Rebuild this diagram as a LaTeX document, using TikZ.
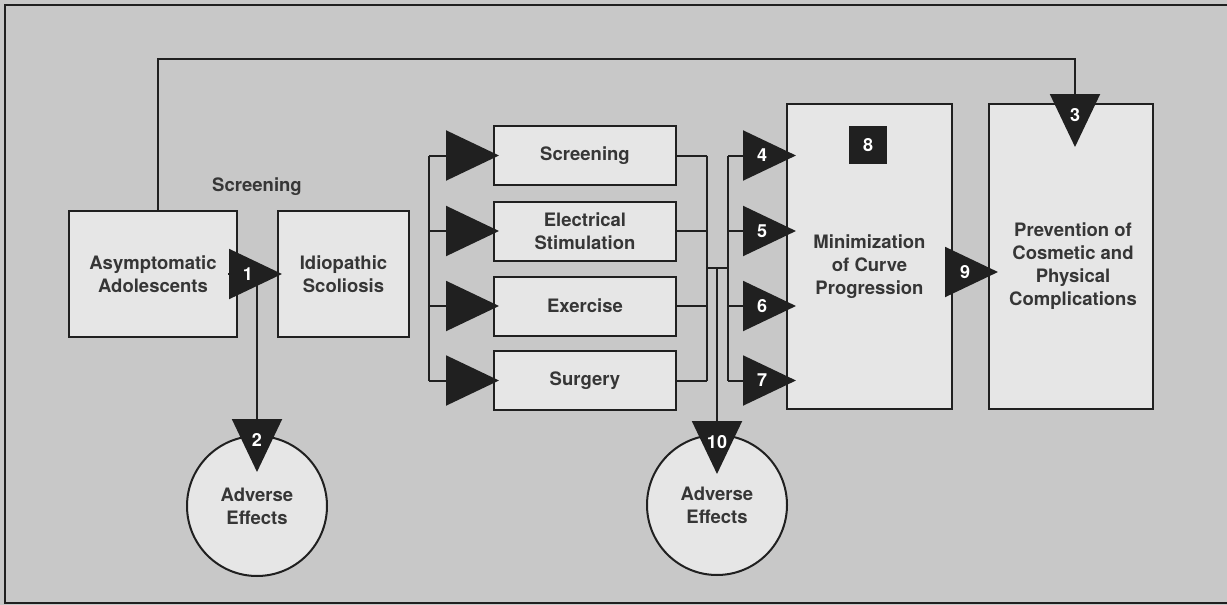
\documentclass[tikz,border=0pt]{standalone}
\usepackage{fontspec}
\setmainfont{TeX Gyre Heros}
\usetikzlibrary{arrows.meta, positioning, calc}
\definecolor{pagegray}{RGB}{200,200,200}
\definecolor{boxgray}{RGB}{230,230,230}
\definecolor{ink}{RGB}{32,32,32}

\tikzset{
  box/.style={draw=ink, fill=boxgray, line width=2pt, align=center, inner sep=0pt,
    font=\fontsize{18.5}{23}\selectfont\bfseries, text=ink!90},
  effect/.style={box, circle, minimum size=140pt},
  caption/.style={align=center, font=\fontsize{18.5}{23}\selectfont\bfseries, text=ink!90},
  wire/.style={draw=ink, line width=2pt},
  bigtip/.style={wire, -{Triangle[length=53pt, width=50pt]}},
  num/.style={text=white, font=\fontsize{18}{18}\selectfont\bfseries, inner sep=0pt}
}

\begin{document}
\begin{tikzpicture}[x=1pt, y=-1pt]
\fill[pagegray] (0,0) rectangle (1227,605);
\useasboundingbox (0,0) rectangle (1227,605);
\draw[wire] (1227,5) -- (5,5) -- (5,603) -- (1227,603);

\node[box, minimum width=168pt, minimum height=126pt] (asym) at (153,274) {Asymptomatic\\Adolescents};
\node[box, minimum width=131pt, minimum height=126pt] (idio) at (343.5,274) {Idiopathic\\Scoliosis};
\node[caption] (screenlabel) at (257,187) {Screening};

\node[box, minimum width=182pt, minimum height=59pt] (scr) at (585,155.5) {Screening};
\node[box, minimum width=182pt, minimum height=59pt] (elec) at (585,231) {Electrical\\Stimulation};
\node[box, minimum width=182pt, minimum height=59pt] (exer) at (585,306) {Exercise};
\node[box, minimum width=182pt, minimum height=59pt] (surg) at (585,380.5) {Surgery};

\node[box, minimum width=165pt, minimum height=305pt] (minim) at (869.5,256.5) {};
\node[caption] (minimtext) at (869.5,267) {Minimization\\of Curve\\Progression};
\node[box, minimum width=164pt, minimum height=305pt] (prev) at (1071,256.5) {};
\node[caption] (prevtext) at (1073,266) {Prevention of\\Cosmetic and\\Physical\\Complications};

\node[effect] (adv1) at (257,506) {Adverse\\Effects};
\node[effect] (adv2) at (717,505) {Adverse\\Effects};

\coordinate (topL) at (158,59);
\coordinate (topR) at (1075,59);
\coordinate (drop) at (257,274);
\coordinate (lbus) at (429,0);
\coordinate (rbusA) at (707,0);
\coordinate (rbusB) at (728,0);
\coordinate (join) at (717,268);

\draw[bigtip, shorten >=-44pt] ([xshift=5pt]asym.north) -- (topL) -- (topR) -- ([xshift=4pt]prev.north);
\draw[bigtip, shorten >=-37pt] (drop) -- (adv1);
\draw[bigtip, shorten >=-5pt] ([xshift=-10pt]asym.east) -- (idio.west);

\draw[wire] (lbus |- scr) -- (lbus |- surg);
\draw[bigtip, shorten >=-6pt] (lbus |- scr) -- (scr);
\draw[bigtip, shorten >=-6pt] (lbus |- elec) -- (elec);
\draw[bigtip, shorten >=-6pt] (lbus |- exer) -- (exer);
\draw[bigtip, shorten >=-6pt] (lbus |- surg) -- (surg);

\draw[wire] (scr) -- (rbusA |- scr);
\draw[wire] (elec) -- (rbusA |- elec);
\draw[wire] (exer) -- (rbusA |- exer);
\draw[wire] (surg) -- (rbusA |- surg);
\draw[wire] (rbusA |- scr) -- (rbusA |- surg);
\draw[wire] (rbusA |- join) -- (rbusB |- join);
\draw[wire] (rbusB |- scr) -- (rbusB |- surg);
\draw[bigtip, shorten >=-40pt] (join) -- (adv2);

\draw[bigtip, shorten >=-10pt] (rbusB |- scr) -- (scr -| minim.west);
\draw[bigtip, shorten >=-10pt] (rbusB |- elec) -- (elec -| minim.west);
\draw[bigtip, shorten >=-10pt] (rbusB |- exer) -- (exer -| minim.west);
\draw[bigtip, shorten >=-10pt] (rbusB |- surg) -- (surg -| minim.west);

\draw[bigtip, shorten >=-10pt] ([xshift=-8pt, yshift=-15.5pt]minim.east) -- ([yshift=-15.5pt]prev.west);

\node[num, fill=ink, minimum size=38pt] (n8) at (868,145) {8};
\node[num] (n1) at (248,274) {1};
\node[num] (n2) at (257,440) {2};
\node[num] (n3) at (1075,115) {3};
\node[num] (n4) at (762,155.5) {4};
\node[num] (n5) at (762,231) {5};
\node[num] (n6) at (762,306) {6};
\node[num] (n7) at (762,380.5) {7};
\node[num] (n9) at (965,272) {9};
\node[num] (n10) at (717,442) {10};
\end{tikzpicture}
\end{document}
